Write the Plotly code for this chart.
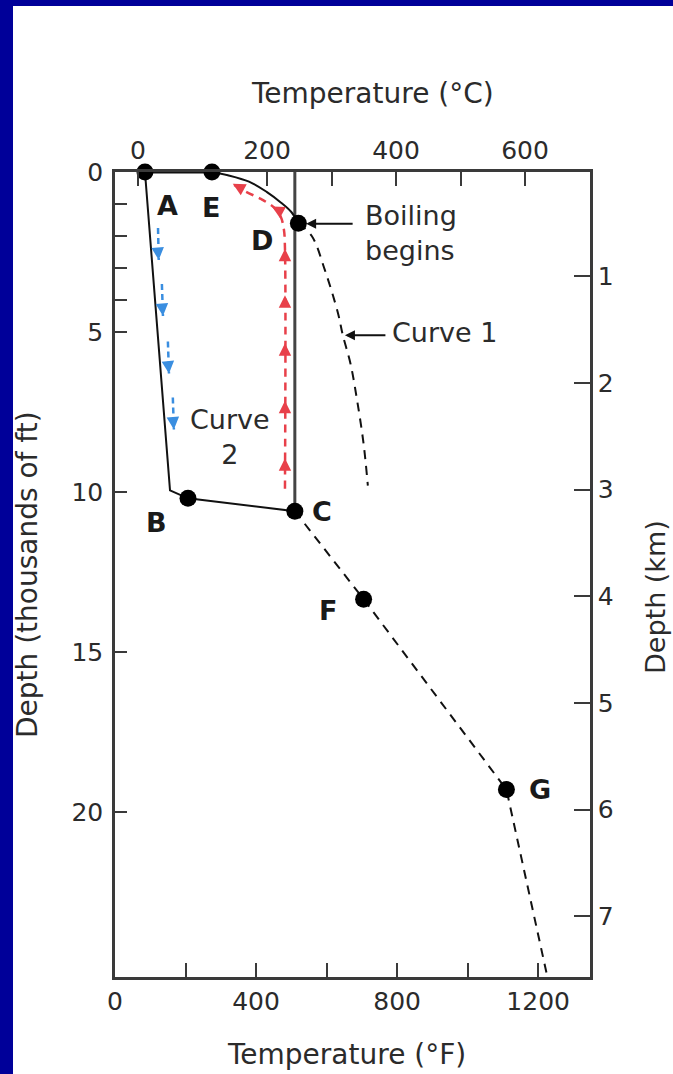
import plotly.graph_objects as go

FONT = "DejaVu Sans"
INK = "#2b2b2b"
FRAME = "#3a3a3a"
NAVY = "#000099"
RED = "#e8404a"
BLUE = "#3a8ee0"

# ---------------- data (temperature in degF, depth in thousands of ft) ----------------
curve2_temp = [85, 156, 207, 510, 510]
curve2_depth = [0, 9.95, 10.2, 10.6, 0]
surface_temp = [85, 275]
surface_depth = [0, 0]
boiling_temp = [275, 320, 380, 430, 470, 500, 520]
boiling_depth = [0, 0.1, 0.3, 0.62, 0.95, 1.25, 1.6]
curve1_temp = [520, 558, 595, 632, 646, 668, 686, 705, 717]
curve1_depth = [1.6, 2.0, 3.06, 4.4, 5.1, 6.0, 7.1, 8.5, 9.8]
deep_temp = [510, 705, 1110, 1227]
deep_depth = [10.6, 13.35, 19.3, 25.2]

point_names = ["A", "E", "D", "B", "C", "F", "G"]
point_temp = [85, 275, 520, 207, 510, 705, 1110]
point_depth = [0, 0, 1.6, 10.2, 10.6, 13.35, 19.3]
label_temp = [150, 272, 416, 119, 586, 603, 1204]
label_depth = [1.06, 1.1, 2.15, 10.97, 10.6, 13.7, 19.3]

upflow_temp = [482, 482, 479, 470, 450, 415, 372, 335]
upflow_depth = [9.9, 2.4, 1.8, 1.4, 1.1, 0.85, 0.62, 0.38]
upflow_arrow_temp = [482, 482, 482, 482, 482]
upflow_arrow_depth = [2.4, 3.85, 5.35, 7.15, 8.95]
upcurve_arrow_temp = [334, 445]
upcurve_arrow_depth = [0.37, 1.08]

down_start_temp = [122, 133, 150, 164]
down_start_depth = [1.75, 3.5, 5.3, 7.05]
down_end_temp = [124, 136, 153, 167]
down_end_depth = [2.75, 4.5, 6.3, 8.05]

f_ticks = [0, 200, 400, 600, 800, 1000, 1200]
f_labels = ["0", "", "400", "", "800", "", "1200"]
c_ticks = [0, 200, 300, 400, 500, 600]
c_labels = ["0", "200", "", "400", "", "600"]
kft_ticks = [0, 1, 2, 3, 4, 5, 10, 15, 20]
kft_labels = ["0", "", "", "", "", "5", "10", "15", "20"]
km_ticks = [1, 2, 3, 4, 5, 6, 7]

# ---------------- figure ----------------
fig = go.Figure()

solid = dict(color="#111111", width=2)
dashed = dict(color="#111111", width=2, dash="9px,7px")

fig.add_trace(go.Scatter(x=surface_temp, y=surface_depth, mode="lines", line=dict(color="#111111", width=3), cliponaxis=False))
fig.add_trace(go.Scatter(x=curve2_temp[:4], y=curve2_depth[:4], mode="lines", line=solid, cliponaxis=False))
fig.add_trace(go.Scatter(x=curve2_temp[3:], y=curve2_depth[3:], mode="lines", line=dict(color="#444444", width=3), cliponaxis=False))
fig.add_trace(go.Scatter(x=boiling_temp, y=boiling_depth, mode="lines", line=dict(color="#111111", width=2, shape="spline"), cliponaxis=False))
fig.add_trace(go.Scatter(x=curve1_temp, y=curve1_depth, mode="lines", line=dict(color="#111111", width=2, dash="9px,7px", shape="spline"), cliponaxis=False))
fig.add_trace(go.Scatter(x=deep_temp, y=deep_depth, mode="lines", line=dashed, cliponaxis=False))

# red up-flow path
fig.add_trace(go.Scatter(x=upflow_temp, y=upflow_depth, mode="lines",
                         line=dict(color=RED, width=2.5, dash="8px,6px", shape="spline"), cliponaxis=False))
# blue down-flow segments
bx, by = [], []
for xs, ys, xe, ye in zip(down_start_temp, down_start_depth, down_end_temp, down_end_depth):
    bx += [xs, xe, None]
    by += [ys, ye, None]
fig.add_trace(go.Scatter(x=bx, y=by, mode="lines", line=dict(color=BLUE, width=2.5, dash="6px,4px"), cliponaxis=False))

# points
fig.add_trace(go.Scatter(x=point_temp, y=point_depth, mode="markers",
                         marker=dict(size=17, color="#000000"), cliponaxis=False))

# invisible traces to attach secondary axes
fig.add_trace(go.Scatter(x=[0], y=[None], xaxis="x2", yaxis="y", mode="markers", marker=dict(opacity=0), hoverinfo="skip"))
fig.add_trace(go.Scatter(x=[None], y=[1], xaxis="x", yaxis="y2", mode="markers", marker=dict(opacity=0), hoverinfo="skip"))

ann = []
tfont = dict(family=FONT, size=27, color=INK)
for n, xt, yt in zip(point_names, label_temp, label_depth):
    ann.append(dict(x=xt, y=yt, xref="x", yref="y", text="<b>%s</b>" % n, showarrow=False,
                    font=dict(family=FONT, size=27, color="#1a1a1a")))

ann.append(dict(x=703, y=1.9, xref="x", yref="y", text="Boiling<br>begins", showarrow=False,
                xanchor="left", align="left", font=tfont))
ann.append(dict(x=542, y=1.62, xref="x", yref="y", text="", showarrow=True, ax=48, ay=0,
                arrowhead=2, arrowsize=1, arrowwidth=2, arrowcolor="#111111"))
ann.append(dict(x=780, y=5.03, xref="x", yref="y", text="Curve 1", showarrow=False,
                xanchor="left", font=tfont))
ann.append(dict(x=652, y=5.1, xref="x", yref="y", text="", showarrow=True, ax=42, ay=0,
                arrowhead=2, arrowsize=1, arrowwidth=2, arrowcolor="#111111"))
ann.append(dict(x=326, y=8.28, xref="x", yref="y", text="Curve<br>2", showarrow=False, font=tfont))

for xh, yh in zip(upflow_arrow_temp, upflow_arrow_depth):
    ann.append(dict(x=xh, y=yh, xref="x", yref="y", text="", showarrow=True, ax=0, ay=12,
                    arrowhead=2, arrowsize=1, arrowwidth=2.5, arrowcolor=RED))
for xh, yh in zip(upcurve_arrow_temp, upcurve_arrow_depth):
    ann.append(dict(x=xh, y=yh, xref="x", yref="y", text="", showarrow=True, ax=11, ay=6,
                    arrowhead=2, arrowsize=1, arrowwidth=2.5, arrowcolor=RED))
for xh, yh in zip(down_end_temp, down_end_depth):
    ann.append(dict(x=xh, y=yh, xref="x", yref="y", text="", showarrow=True, ax=-1, ay=-12,
                    arrowhead=2, arrowsize=1, arrowwidth=2.5, arrowcolor=BLUE))

# axis titles
W, H = 673, 1074
L, R, T, B = 115, 83, 172, 97
pw, ph = W - L - R, H - T - B
def px(xp):
    return (xp - L) / pw
def py(yp):
    return (H - B - yp) / ph

title_common = dict(xref="paper", yref="paper", showarrow=False, xanchor="center", yanchor="middle")
ann.append(dict(x=px(372), y=py(93), text="Temperature (°C)",
                font=dict(family=FONT, size=28, color=INK), **title_common))
ann.append(dict(x=px(346), y=py(1054), text="Temperature (°F)",
                font=dict(family=FONT, size=28, color=INK), **title_common))
ann.append(dict(x=px(27), y=py(575), text="Depth (thousands of ft)", textangle=-90,
                font=dict(family=FONT, size=28, color=INK), **title_common))
ann.append(dict(x=px(655), y=py(597), text="Depth (km)", textangle=-90,
                font=dict(family=FONT, size=27, color=INK), **title_common))

tickfont = dict(family=FONT, size=25, color=INK)
axis_common = dict(showgrid=False, zeroline=False, showline=True, linecolor=FRAME, linewidth=2.5,
                   ticks="inside", tickcolor=FRAME, tickwidth=2, tickfont=tickfont, fixedrange=True)

fig.update_layout(
    width=W, height=H,
    margin=dict(l=L, r=R, t=T, b=B),
    paper_bgcolor=NAVY, plot_bgcolor="white",
    showlegend=False,
    font=dict(family=FONT, color=INK),
    xaxis=dict(range=[0, 1347], tickvals=f_ticks, ticktext=f_labels, ticklen=14, **axis_common),
    xaxis2=dict(range=[-35.7, 700.8], overlaying="x", side="top", anchor="y",
                tickvals=c_ticks, ticktext=c_labels, ticklen=14, **axis_common),
    yaxis=dict(range=[25.16, 0], tickvals=kft_ticks, ticktext=kft_labels, ticklen=12,
               ticklabelstandoff=4, **axis_common),
    yaxis2=dict(range=[7.57, 0.02], overlaying="y", side="right", anchor="x",
                tickvals=km_ticks, ticklen=16, **axis_common),
    shapes=[dict(type="rect", xref="paper", yref="paper", x0=px(13), x1=px(W + 5), y0=py(H + 5), y1=py(6),
                 fillcolor="white", line=dict(width=0), layer="below")],
    annotations=ann,
)

fig.write_html("out.html", config={"displayModeBar": False},
               post_script="document.body.style.margin='0';document.body.style.overflow='hidden';")
